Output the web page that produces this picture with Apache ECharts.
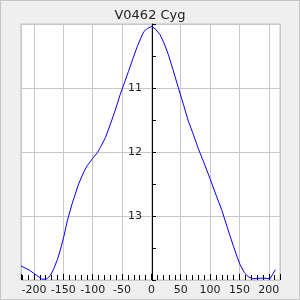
<!DOCTYPE html>
<html>
<head>
<meta charset="utf-8">
<script src="https://cdn.jsdelivr.net/npm/echarts@6/dist/echarts.min.js"></script>
<style>
  html, body { margin: 0; padding: 0; }
  #chart { width: 300px; height: 300px; box-sizing: border-box; border: 1px solid #c4c4c4; background: #efefef; }
</style>
</head>
<body>
<div id="chart"></div>
<script>
const title = 'V0462 Cyg';
// phase offset (days) and magnitude
const phase = [-222, -207, -195, -186, -178, -172, -166, -160, -155, -149, -143, -135, -124, -115, -109, -100, -92, -87, -78, -70, -62, -53, -46, -39, -31, -24, -18, -13, -7, 0, 7, 15, 22, 29, 37, 46, 55, 63, 72, 80, 90, 100, 110, 120, 130, 140, 146, 151, 158, 165, 172, 190, 202, 206, 211];
const mag = [13.78, 13.85, 13.93, 13.99, 13.98, 13.93, 13.82, 13.68, 13.53, 13.32, 13.07, 12.81, 12.50, 12.31, 12.21, 12.10, 12.01, 11.93, 11.77, 11.57, 11.36, 11.10, 10.92, 10.74, 10.53, 10.35, 10.22, 10.12, 10.07, 10.04, 10.08, 10.17, 10.31, 10.48, 10.72, 11.0, 11.27, 11.52, 11.74, 11.95, 12.18, 12.42, 12.67, 12.91, 13.20, 13.48, 13.64, 13.76, 13.88, 13.95, 13.98, 13.97, 13.98, 13.92, 13.84];
const xMin = -222, xMax = 219;

const gridLeft = 20, gridRight = 19;
const plotW = 300 - gridLeft - gridRight;
// shift the magnitude axis to phase 0
const yOffset = -Math.round((0 - xMin) / (xMax - xMin) * plotW);

const chart = echarts.init(document.getElementById('chart'));
chart.setOption({
  animation: false,
  title: {
    text: title, left: 'center', top: 3,
    textStyle: { fontFamily: 'DejaVu Sans', fontSize: 13, fontWeight: 'normal', color: '#222' }
  },
  grid: {
    left: gridLeft, right: gridRight, top: 23, bottom: 19,
    show: true, backgroundColor: '#fff', borderColor: '#c0c0c0', borderWidth: 1
  },
  xAxis: {
    type: 'value', min: xMin, max: xMax, splitNumber: 9,
    axisLine: { show: false },
    axisTick: { show: true, inside: true, length: 6, lineStyle: { color: '#000' } },
    minorTick: { show: true, splitNumber: 5, length: 5, lineStyle: { color: '#000' } },
    splitLine: { show: true, lineStyle: { color: '#c8c8c8', width: 1 } },
    axisLabel: {
      showMinLabel: false, showMaxLabel: false, margin: 5,
      fontFamily: 'DejaVu Sans', fontSize: 11, color: '#222'
    }
  },
  yAxis: [{
    type: 'value', inverse: true, min: 10, max: 14, interval: 1,
    axisLine: { show: false },
    axisTick: { show: false },
    axisLabel: { show: false },
    splitLine: { show: true, lineStyle: { color: '#c8c8c8', width: 1 } }
  }, {
    type: 'value', inverse: true, min: 10, max: 14, interval: 1,
    position: 'left', offset: yOffset,
    axisLine: { show: true, onZero: false, lineStyle: { color: '#000', width: 1 } },
    axisTick: { show: true, inside: true, length: 4, lineStyle: { color: '#000' } },
    minorTick: { show: true, splitNumber: 2, length: 4, lineStyle: { color: '#000' } },
    splitLine: { show: false },
    axisLabel: {
      showMinLabel: false, showMaxLabel: false, margin: 10,
      fontFamily: 'DejaVu Sans', fontSize: 11, color: '#222'
    }
  }],
  series: [{
    type: 'line',
    data: phase.map((p, i) => [p, mag[i]]),
    showSymbol: false,
    lineStyle: { color: '#0000ff', width: 1 },
    z: 1
  }]
});
</script>
</body>
</html>
